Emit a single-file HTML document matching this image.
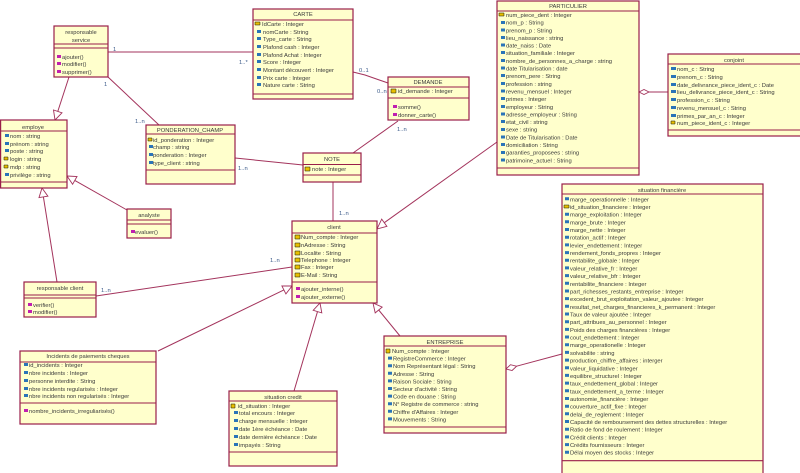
<!DOCTYPE html>
<html><head><meta charset="utf-8"><style>
html,body{margin:0;padding:0;background:#fff;}
svg{display:block;}
text{font-family:"Liberation Sans",Arial,sans-serif;font-size:5.8px;fill:#3a3a3a;}
.c{text-anchor:middle;}
.m{fill:#3b5a8a;}
.b{fill:#ffffcc;stroke:#9a1e4a;stroke-width:1.2;}
.s{stroke:#9a1e4a;stroke-width:1.1;fill:none;}
.l{stroke:#a3335c;stroke-width:1;fill:none;}
.h{fill:#fff;stroke:#a3335c;stroke-width:0.9;}
.i{fill:#2a74b8;}
.k{fill:#e8c000;stroke:#111;stroke-width:0.5;}
.p{fill:#c020b0;}
</style></head><body>
<svg width="800" height="473" viewBox="0 0 800 473" xmlns="http://www.w3.org/2000/svg">

<!-- connectors -->
<path class="l" d="M108 52 L253 52"/>
<text class="m" x="113" y="51">1</text>
<text class="m" x="239" y="64">1..*</text>

<path class="l" d="M69 77 L57.8 111.4"/>
<polygon class="h" points="55,120 62,112.8 53.5,110"/>

<path class="l" d="M108 77 L159 125"/>
<text class="m" x="104" y="86">1</text>
<text class="m" x="135" y="123">1..n</text>

<path class="l" d="M127 210 L74.8 180.4"/>
<polygon class="h" points="67,176 77,176.5 72.6,184.3"/>

<path class="l" d="M57 282 L43.4 196.9"/>
<polygon class="h" points="42,188 47.9,196.2 39,197.6"/>

<path class="l" d="M96 296 L292 267"/>
<text class="m" x="101" y="292">1..n</text>
<text class="m" x="270" y="262">1..n</text>

<path class="l" d="M235 158 L303 165"/>
<text class="m" x="238" y="170">1..n</text>

<path class="l" d="M398 121 L353 153"/>
<text class="m" x="397" y="131">1..n</text>

<path class="l" d="M353 72 L365 75 L388 83"/>
<text class="m" x="359" y="72">0..1</text>
<text class="m" x="377" y="93">0..n</text>

<path class="l" d="M333 182 L333 221"/>
<text class="m" x="339" y="215">1..n</text>

<path class="l" d="M497 142 L384.3 222.7"/>
<polygon class="h" points="377,229 386.9,226.3 381.7,219.1"/>

<path class="l" d="M158 351 L283.9 289.9"/>
<polygon class="h" points="292,286 285.9,293.9 281.9,285.9"/>

<path class="l" d="M294 391 L317.5 311.6"/>
<polygon class="h" points="320,303 321.8,312.9 313.2,310.3"/>

<path class="l" d="M400 336 L378.7 310"/>
<polygon class="h" points="373,303 382.2,307.1 375.2,312.9"/>

<path class="l" d="M516.6 366.2 L562 354"/>
<polygon class="h" points="506,369 512.1,370.5 516.6,366.2 510.5,364.7"/>

<path class="l" d="M649 92 L668 92"/>
<polygon class="h" points="639,92 644,89.5 649,92 644,94.5"/>

<!-- responsable service -->
<rect class="b" x="54" y="26" width="54" height="51"/>
<path class="s" d="M54 44H108M54 48H108"/>
<text class="c" x="81" y="34">responsable</text>
<text class="c" x="81" y="42">service</text>
<path class="p" d="M57 55h4v3h-4zM57 62h4v3h-4zM57 70h4v3h-4z"/>
<text x="62" y="59">ajouter()</text>
<text x="62" y="66">modifier()</text>
<text x="62" y="74">supprimer()</text>

<!-- employe -->
<rect class="b" x="0.6" y="120" width="66.4" height="68"/>
<path class="s" d="M0 131H67M0 182H67"/>
<text class="c" x="33" y="129">employe</text>
<path class="i" d="M5 134h4v3h-4zM5 142h4v3h-4zM5 149h4v3h-4zM5 173h4v3h-4z"/>
<path class="k" d="M4 157h4v3h-4zM4 165h4v3h-4z"/>
<text x="10" y="138">nom : string</text>
<text x="10" y="146">prénom : string</text>
<text x="10" y="153">poste : string</text>
<text x="10" y="161">login : string</text>
<text x="10" y="169">mdp : string</text>
<text x="10" y="177">privilège : string</text>

<!-- PONDERATION_CHAMP -->
<rect class="b" x="146" y="125" width="89" height="59"/>
<path class="s" d="M146 134H235M146 170H235"/>
<text class="c" x="190" y="132">PONDERATION_CHAMP</text>
<path class="k" d="M148 138h4v3h-4z"/>
<path class="i" d="M149 145h4v3h-4zM149 153h4v3h-4zM149 161h4v3h-4z"/>
<text x="153" y="142">id_ponderation : Integer</text>
<text x="153" y="149">champ : string</text>
<text x="153" y="157">ponderation : Integer</text>
<text x="153" y="165">type_client : string</text>

<!-- CARTE -->
<rect class="b" x="253" y="9" width="100" height="90"/>
<path class="s" d="M253 20H353M253 94H353"/>
<text class="c" x="303" y="16">CARTE</text>
<path class="k" d="M255 22h5v3h-5z"/>
<path class="i" d="M257 30h4v3h-4zM257 37h4v3h-4zM257 45h4v3h-4zM257 53h4v3h-4zM257 60h4v3h-4zM257 68h4v3h-4zM257 76h4v3h-4zM257 83h4v3h-4z"/>
<text x="262" y="26">IdCarte : Integer</text>
<text x="263" y="34">nomCarte : String</text>
<text x="263" y="41">Type_carte : String</text>
<text x="263" y="49">Plafond cash : Integer</text>
<text x="263" y="57">Plafond Achat : Integer</text>
<text x="263" y="64">Score : Integer</text>
<text x="263" y="72">Montant découvert : Integer</text>
<text x="263" y="80">Prix carte : Integer</text>
<text x="263" y="87">Nature carte : String</text>

<!-- DEMANDE -->
<rect class="b" x="388" y="77" width="81" height="43"/>
<path class="s" d="M388 87H469M388 98H469"/>
<text class="c" x="428" y="84">DEMANDE</text>
<path class="k" d="M391 89h5v4h-5z"/>
<text x="398" y="93">id_demande : Integer</text>
<path class="p" d="M393 105h4v3h-4zM393 113h4v3h-4z"/>
<text x="398" y="109">somme()</text>
<text x="398" y="117">donner_carte()</text>

<!-- NOTE -->
<rect class="b" x="303" y="153" width="58" height="29"/>
<path class="s" d="M303 164.5H361M303 175H361"/>
<text class="c" x="332" y="161">NOTE</text>
<path class="k" d="M305 167h5v4h-5z"/>
<text x="312" y="171">note : Integer</text>

<!-- client -->
<rect class="b" x="292" y="221" width="85" height="82"/>
<path class="s" d="M292 233H377M292 282H377"/>
<text class="c" x="334" y="229">client</text>
<path class="k" d="M295 235h5v4h-5zM295 243h5v4h-5zM295 251h5v4h-5zM295 258h5v4h-5zM295 265h5v4h-5zM295 273h5v4h-5z"/>
<text x="301" y="239">Num_compte : Integer</text>
<text x="301" y="247">nAdresse : String</text>
<text x="301" y="255">Localite : String</text>
<text x="301" y="262">Telephone : Integer</text>
<text x="301" y="269">Fax : Integer</text>
<text x="301" y="277">E-Mail : String</text>
<path class="p" d="M296 287h4v3h-4zM296 295h4v3h-4z"/>
<text x="301" y="291">ajouter_interne()</text>
<text x="301" y="299">ajouter_externe()</text>

<!-- PARTICULIER -->
<rect class="b" x="497" y="1" width="142" height="174"/>
<path class="s" d="M497 11H639M497 168H639"/>
<text class="c" x="568" y="8">PARTICULIER</text>
<path class="k" d="M499 13h5v3h-5z"/>
<path class="i" d="M501 21h4v3h-4zM501 28.5h4v3h-4zM501 36h4v3h-4zM501 43.5h4v3h-4zM501 51h4v3h-4zM501 59h4v3h-4zM501 66.5h4v3h-4zM501 74h4v3h-4zM501 82h4v3h-4zM501 89.5h4v3h-4zM501 97h4v3h-4zM501 105h4v3h-4zM501 112.5h4v3h-4zM501 120h4v3h-4zM501 128h4v3h-4zM501 135.5h4v3h-4zM501 143h4v3h-4zM501 151h4v3h-4zM501 158.5h4v3h-4z"/>
<text x="506" y="17">num_piece_dent : Integer</text>
<text x="506" y="24.6">nom_p : String</text>
<text x="506" y="32.3">prenom_p : String</text>
<text x="506" y="39.9">lieu_naissance : string</text>
<text x="506" y="47.6">date_naiss : Date</text>
<text x="506" y="55.2">situation_familiale : Integer</text>
<text x="506" y="62.9">nombre_de_personnes_a_charge : string</text>
<text x="506" y="70.5">date Titularisation : date</text>
<text x="506" y="78.2">prenom_pere : String</text>
<text x="506" y="85.8">profession : string</text>
<text x="506" y="93.5">revenu_mensuel : Integer</text>
<text x="506" y="101.1">primes : Integer</text>
<text x="506" y="108.8">employeur : String</text>
<text x="506" y="116.4">adresse_employeur : String</text>
<text x="506" y="124.1">etat_civil : string</text>
<text x="506" y="131.7">sexe : string</text>
<text x="506" y="139.4">Date de Titularisation : Date</text>
<text x="506" y="147">domiciliation : String</text>
<text x="506" y="154.7">garanties_proposees : string</text>
<text x="506" y="162.3">patrimoine_actuel : String</text>

<!-- conjoint -->
<rect class="b" x="668" y="54" width="134" height="82"/>
<path class="s" d="M668 64H801M668 130H801"/>
<text class="c" x="734" y="62">conjoint</text>
<path class="i" d="M671 67h5v3h-5zM671 75h5v3h-5zM671 83h5v3h-5zM671 90h5v3h-5zM671 98h5v3h-5zM671 106h5v3h-5zM671 114h5v3h-5z"/>
<path class="k" d="M671 121h4v3h-4z"/>
<text x="677" y="71">nom_c : String</text>
<text x="677" y="79">prenom_c : String</text>
<text x="677" y="87">date_delivrance_piece_ident_c : Date</text>
<text x="677" y="94">lieu_delivrance_piece_ident_c : String</text>
<text x="677" y="102">profession_c : String</text>
<text x="677" y="110">revenu_mensuel_c : String</text>
<text x="677" y="118">primes_par_an_c : Integer</text>
<text x="677" y="125">num_piece_ident_c : Integer</text>

<!-- situation financiere -->
<rect class="b" x="562" y="184" width="201" height="300"/>
<path class="s" d="M562 194H763M562 460.7H763"/>
<text class="c" x="662" y="192">situation financière</text>
<g>
<text x="570" y="201.3">marge_operationnelle : Integer</text>
<text x="570" y="209">id_situation_financiere : Integer</text>
<text x="570" y="216.7">marge_exploitation : Integer</text>
<text x="570" y="224.3">marge_brute : Integer</text>
<text x="570" y="232">marge_nette : Integer</text>
<text x="570" y="239.7">rotation_actif : Integer</text>
<text x="570" y="247.4">levier_endettement : Integer</text>
<text x="570" y="255.1">rendement_fonds_propres : Integer</text>
<text x="570" y="262.7">rentabilite_globale : Integer</text>
<text x="570" y="270.4">valeur_relative_fr : Integer</text>
<text x="570" y="278.1">valeur_relative_bfr : Integer</text>
<text x="570" y="285.8">rentabilite_financiere : Integer</text>
<text x="570" y="293.5">part_richesses_restants_entreprise : Integer</text>
<text x="570" y="301.1">excedent_brut_exploitation_valeur_ajoutee : Integer</text>
<text x="570" y="308.8">resultat_net_charges_financieres_k_permanent : Integer</text>
<text x="570" y="316.5">Taux de valeur ajoutée : Integer</text>
<text x="570" y="324.2">part_attribues_au_personnel : Integer</text>
<text x="570" y="331.9">Poids des charges financières : Integer</text>
<text x="570" y="339.5">cout_endettement : Integer</text>
<text x="570" y="347.2">marge_operationelle : Integer</text>
<text x="570" y="354.9">solvabilite : string</text>
<text x="570" y="362.6">production_chiffre_affaires : interger</text>
<text x="570" y="370.3">valeur_liquidative : Integer</text>
<text x="570" y="377.9">equilibre_structurel : Integer</text>
<text x="570" y="385.6">taux_endettement_global : Integer</text>
<text x="570" y="393.3">taux_endettement_a_terme : Integer</text>
<text x="570" y="401">autonomie_financière : Integer</text>
<text x="570" y="408.7">couverture_actif_fixe : Integer</text>
<text x="570" y="416.3">delai_de_reglement : Integer</text>
<text x="570" y="424">Capacité de remboursement des dettes structurelles : Integer</text>
<text x="570" y="431.7">Ratio de fond de roulement : Integer</text>
<text x="570" y="439.4">Crédit clients : Integer</text>
<text x="570" y="447.1">Crédits fournisseurs : Integer</text>
<text x="570" y="454.7">Délai moyen des stocks : Integer</text>
</g>
<path class="i" d="M565 197.3h4v3h-4zM565 212.7h4v3h-4zM565 220.3h4v3h-4zM565 228h4v3h-4zM565 235.7h4v3h-4zM565 243.4h4v3h-4zM565 251.1h4v3h-4zM565 258.7h4v3h-4zM565 266.4h4v3h-4zM565 274.1h4v3h-4zM565 281.8h4v3h-4zM565 289.5h4v3h-4zM565 297.1h4v3h-4zM565 304.8h4v3h-4zM565 312.5h4v3h-4zM565 320.2h4v3h-4zM565 327.9h4v3h-4zM565 335.5h4v3h-4zM565 343.2h4v3h-4zM565 350.9h4v3h-4zM565 358.6h4v3h-4zM565 366.3h4v3h-4zM565 373.9h4v3h-4zM565 381.6h4v3h-4zM565 389.3h4v3h-4zM565 397h4v3h-4zM565 404.7h4v3h-4zM565 412.3h4v3h-4zM565 420h4v3h-4zM565 427.7h4v3h-4zM565 435.4h4v3h-4zM565 443.1h4v3h-4zM565 450.7h4v3h-4z"/>
<path class="k" d="M564 205h5v3h-5z"/>

<!-- ENTREPRISE -->
<rect class="b" x="384" y="336" width="122" height="97"/>
<path class="s" d="M384 346H506M384 427H506"/>
<text class="c" x="445" y="344">ENTREPRISE</text>
<path class="k" d="M386 349h4v4h-4z"/>
<path class="i" d="M388 356.6h4v3h-4zM388 364.2h4v3h-4zM388 371.8h4v3h-4zM388 379.4h4v3h-4zM388 387h4v3h-4zM388 394.6h4v3h-4zM388 402.2h4v3h-4zM388 409.8h4v3h-4zM388 417.4h4v3h-4z"/>
<text x="392" y="353">Num_compte : Integer</text>
<text x="393" y="360.6">RegistreCommerce : Integer</text>
<text x="393" y="368.2">Nom Représentant légal : String</text>
<text x="393" y="375.8">Adresse : String</text>
<text x="393" y="383.4">Raison Sociale : String</text>
<text x="393" y="391">Secteur d'activité : String</text>
<text x="393" y="398.6">Code en douane : String</text>
<text x="393" y="406.2">N° Registre de commerce : string</text>
<text x="393" y="413.8">Chiffre d'Affaires : Integer</text>
<text x="393" y="421.4">Mouvements : String</text>

<!-- situation credit -->
<rect class="b" x="229" y="391" width="108" height="75"/>
<path class="s" d="M229 401H337M229 452H337"/>
<text class="c" x="283" y="399">situation credit</text>
<path class="k" d="M231 404h4v4h-4z"/>
<path class="i" d="M234 411h4v3h-4zM234 419h4v3h-4zM234 427h4v3h-4zM234 435h4v3h-4zM234 443h4v3h-4z"/>
<text x="238" y="408">id_situation : Integer</text>
<text x="239" y="415">total encours : Integer</text>
<text x="239" y="423">charge mensuelle : Integer</text>
<text x="239" y="431">date 1ère échéance : Date</text>
<text x="239" y="439">date dernière échéance : Date</text>
<text x="239" y="447">impayés : String</text>

<!-- Incidents -->
<rect class="b" x="20" y="351" width="136" height="73"/>
<path class="s" d="M20 362H156M20 403H156"/>
<text class="c" x="88" y="358">Incidents de paiements cheques</text>
<path class="i" d="M24 363h4v3h-4zM24 371h4v3h-4zM24 379h4v3h-4zM24 387h4v3h-4zM24 394h4v3h-4z"/>
<text x="29" y="367">id_incidents : Integer</text>
<text x="29" y="375">nbre incidents : Integer</text>
<text x="29" y="383">personne interdite  : String</text>
<text x="29" y="391">nbre incidents regularisés : Integer</text>
<text x="29" y="398">nbre incidents non regularisés : Integer</text>
<path class="p" d="M24 409h4v3h-4z"/>
<text x="29" y="413">nombre_incidents_irreguliarisés()</text>

<!-- analyste -->
<rect class="b" x="127" y="209" width="44" height="29"/>
<path class="s" d="M127 220H171M127 224H171"/>
<text class="c" x="149" y="217">analyste</text>
<path class="p" d="M131 230h4v3h-4z"/>
<text x="135" y="234">evaluer()</text>

<!-- responsable client -->
<rect class="b" x="24" y="282" width="72" height="35"/>
<path class="s" d="M24 295H96M24 298H96"/>
<text class="c" x="60" y="290">responsable client</text>
<path class="p" d="M28 303h4v3h-4zM28 310h4v3h-4z"/>
<text x="33" y="307">verifier()</text>
<text x="33" y="314">modifier()</text>

</svg>
</body></html>
